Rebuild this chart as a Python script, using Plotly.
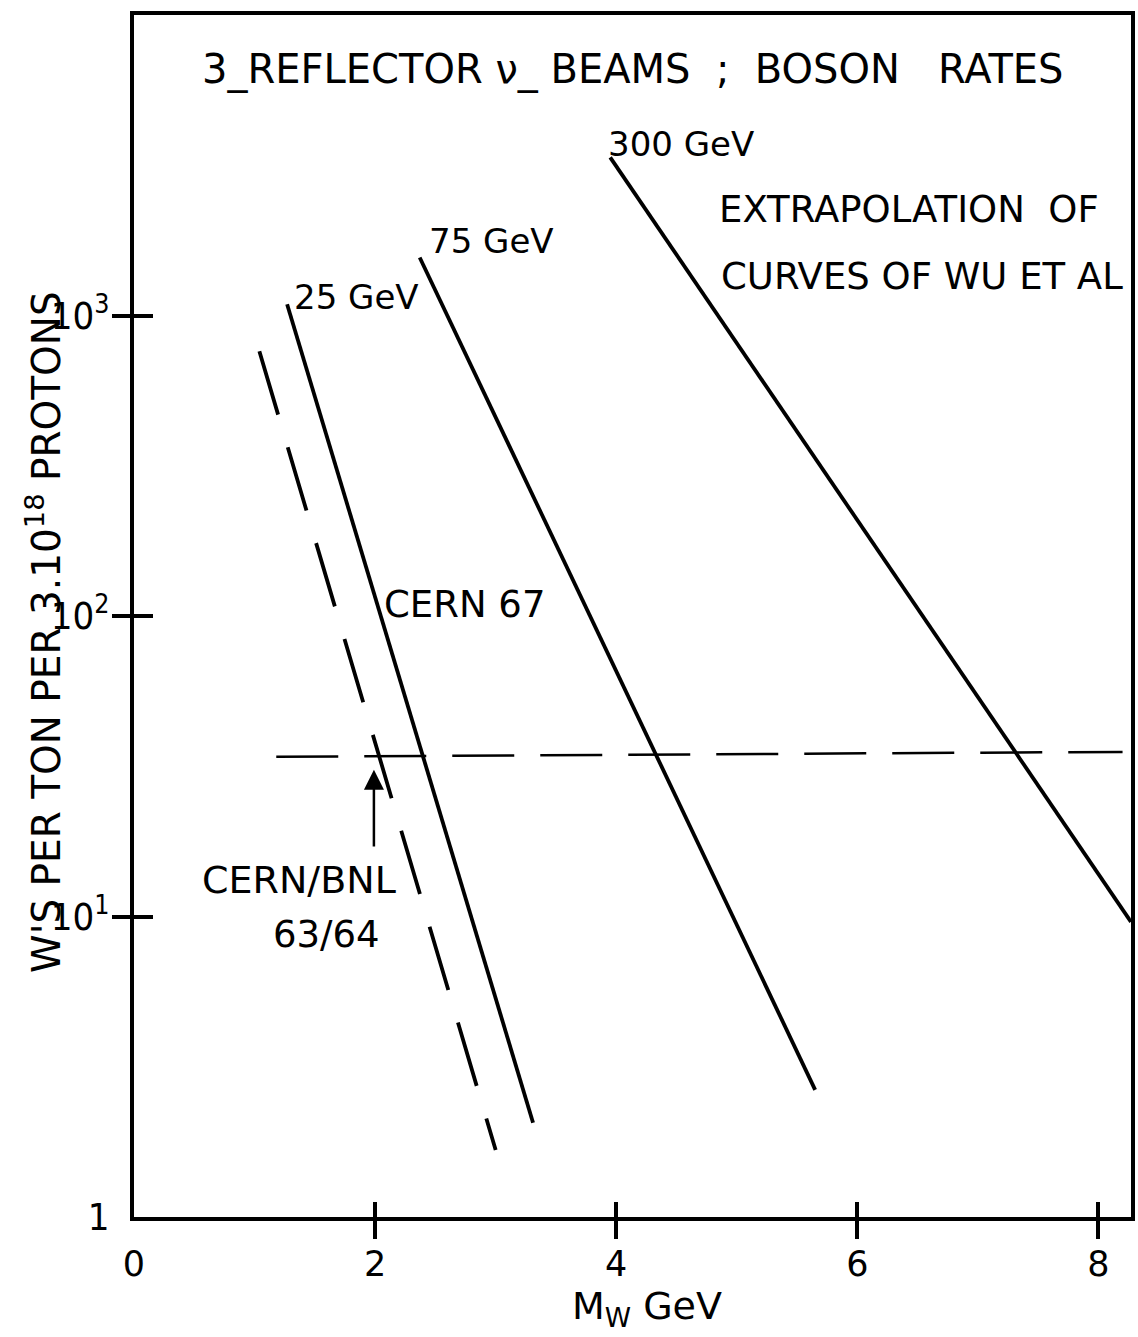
import numpy as np
import plotly.graph_objects as go

# ---- data ----
mass_25 = [1.27, 3.31]
rate_25 = [1090, 2.06]
mass_bnl = [1.04, 3.00]
rate_bnl = [760, 1.67]
mass_75 = [2.37, 5.65]
rate_75 = [1560, 2.65]
mass_300 = [3.95, 8.27]
rate_300 = [3360, 9.6]
mass_limit = [1.18, 8.20]
rate_limit = [34.0, 35.3]

arrow_mass = 1.99
arrow_tip = 30.8
arrow_tail = 16.9

x_tickvals = [0, 2, 4, 6, 8]
x_ticktext = ["0", "2", "4", "6", "8"]
x_markvals = [2, 4, 6, 8]
y_tickvals = [1, 10, 100, 1000]
y_ticktext = ["1", "10<sup>1</sup>", "10<sup>2</sup>", "10<sup>3</sup>"]
y_markvals = [10, 100, 1000]

FONT = "DejaVu Sans"
NARROW = "Liberation Sans Narrow, DejaVu Sans Condensed, DejaVu Sans"
INK = "black"

fig = go.Figure()
solid = dict(color=INK, width=3.8)
fig.add_trace(go.Scatter(x=mass_25, y=rate_25, mode="lines", line=solid, showlegend=False))
fig.add_trace(go.Scatter(x=mass_75, y=rate_75, mode="lines", line=solid, showlegend=False))
fig.add_trace(go.Scatter(x=mass_300, y=rate_300, mode="lines", line=solid, showlegend=False))
fig.add_trace(go.Scatter(x=mass_bnl, y=rate_bnl, mode="lines",
                         line=dict(color=INK, width=3.8, dash="66px,34px"), showlegend=False))
fig.add_trace(go.Scatter(x=mass_limit, y=rate_limit, mode="lines",
                         line=dict(color=INK, width=2.5, dash="62px,26px"), showlegend=False))
# empty traces to make the tick-mark overlay axes render
fig.add_trace(go.Scatter(x=[], y=[], xaxis="x2", yaxis="y2", showlegend=False))
fig.add_trace(go.Scatter(x=[], y=[], xaxis="x3", yaxis="y3", showlegend=False))

xr = [0, 8.27]
yr = [0, 4.0]

fig.update_layout(
    width=1138, height=1337,
    margin=dict(l=134, r=3, t=15, b=120),
    paper_bgcolor="white", plot_bgcolor="white",
    font=dict(family=FONT, color=INK),
    xaxis=dict(range=xr, tickvals=x_tickvals, ticktext=x_ticktext, ticks="",
               showgrid=False, zeroline=False, showline=True, mirror=True,
               linecolor=INK, linewidth=4, tickfont=dict(size=35), ticklabelstandoff=13),
    yaxis=dict(type="log", range=yr, tickvals=y_tickvals, ticktext=y_ticktext, ticks="",
               showgrid=False, zeroline=False, showline=True, mirror=True,
               linecolor=INK, linewidth=4, tickfont=dict(size=38, family=NARROW),
               ticklabelstandoff=13),
    xaxis2=dict(overlaying="x", anchor="y", side="bottom", range=xr, tickvals=x_markvals,
                ticks="outside", ticklen=21, tickwidth=4, tickcolor=INK, showticklabels=False,
                showgrid=False, zeroline=False, showline=False),
    yaxis2=dict(overlaying="y", anchor="x", side="left", type="log", range=yr, tickvals=y_markvals,
                ticks="outside", ticklen=21, tickwidth=4, tickcolor=INK, showticklabels=False,
                showgrid=False, zeroline=False, showline=False),
    xaxis3=dict(overlaying="x", anchor="y", side="bottom", range=xr, tickvals=x_markvals,
                ticks="inside", ticklen=15, tickwidth=4, tickcolor=INK, showticklabels=False,
                showgrid=False, zeroline=False, showline=False),
    yaxis3=dict(overlaying="y", anchor="x", side="left", type="log", range=yr, tickvals=y_markvals,
                ticks="inside", ticklen=19, tickwidth=4, tickcolor=INK, showticklabels=False,
                showgrid=False, zeroline=False, showline=False),
)

def label(text, x, ylog, size=37, anchor="left"):
    fig.add_annotation(text=text, x=x, y=ylog, xref="x", yref="y", showarrow=False,
                       xanchor=anchor, yanchor="middle", font=dict(size=size, family=FONT, color=INK))

NB = "\u00a0"
label("3_REFLECTOR ν_ BEAMS" + NB + " ;" + NB + " BOSON" + NB + NB + " RATES", 0.545, 3.82, size=40)
label("300 GeV", 3.914, 3.570, size=34)
label("EXTRAPOLATION" + NB + " OF", 4.839, 3.353, size=37)
label("CURVES OF WU ET AL", 4.856, 3.130, size=37)
label("75 GeV", 2.428, 3.247, size=34)
label("25 GeV", 1.313, 3.060, size=34)
label("CERN 67", 2.056, 2.038, size=37)
label("CERN/BNL", 0.545, 1.122, size=38)
label("63/64", 1.140, 0.939, size=37)

fig.add_annotation(text="", x=arrow_mass, y=np.log10(arrow_tip), ax=arrow_mass, ay=np.log10(arrow_tail),
                   xref="x", yref="y", axref="x", ayref="y", showarrow=True,
                   arrowhead=2, arrowsize=1.6, arrowwidth=2.5, arrowcolor=INK, standoff=0)

fig.add_annotation(text="W'S PER TON PER 3.10<sup>18</sup> PROTONS", textangle=-90,
                   x=-0.091, y=0.487, xref="paper", yref="paper", showarrow=False,
                   xanchor="center", yanchor="middle", font=dict(size=39, family=FONT, color=INK))
fig.add_annotation(text="M<sub>W</sub> GeV", x=0.5145, y=-0.076, xref="paper", yref="paper",
                   showarrow=False, xanchor="center", yanchor="middle",
                   font=dict(size=38, family=FONT, color=INK))

fig.write_html("out.html")
